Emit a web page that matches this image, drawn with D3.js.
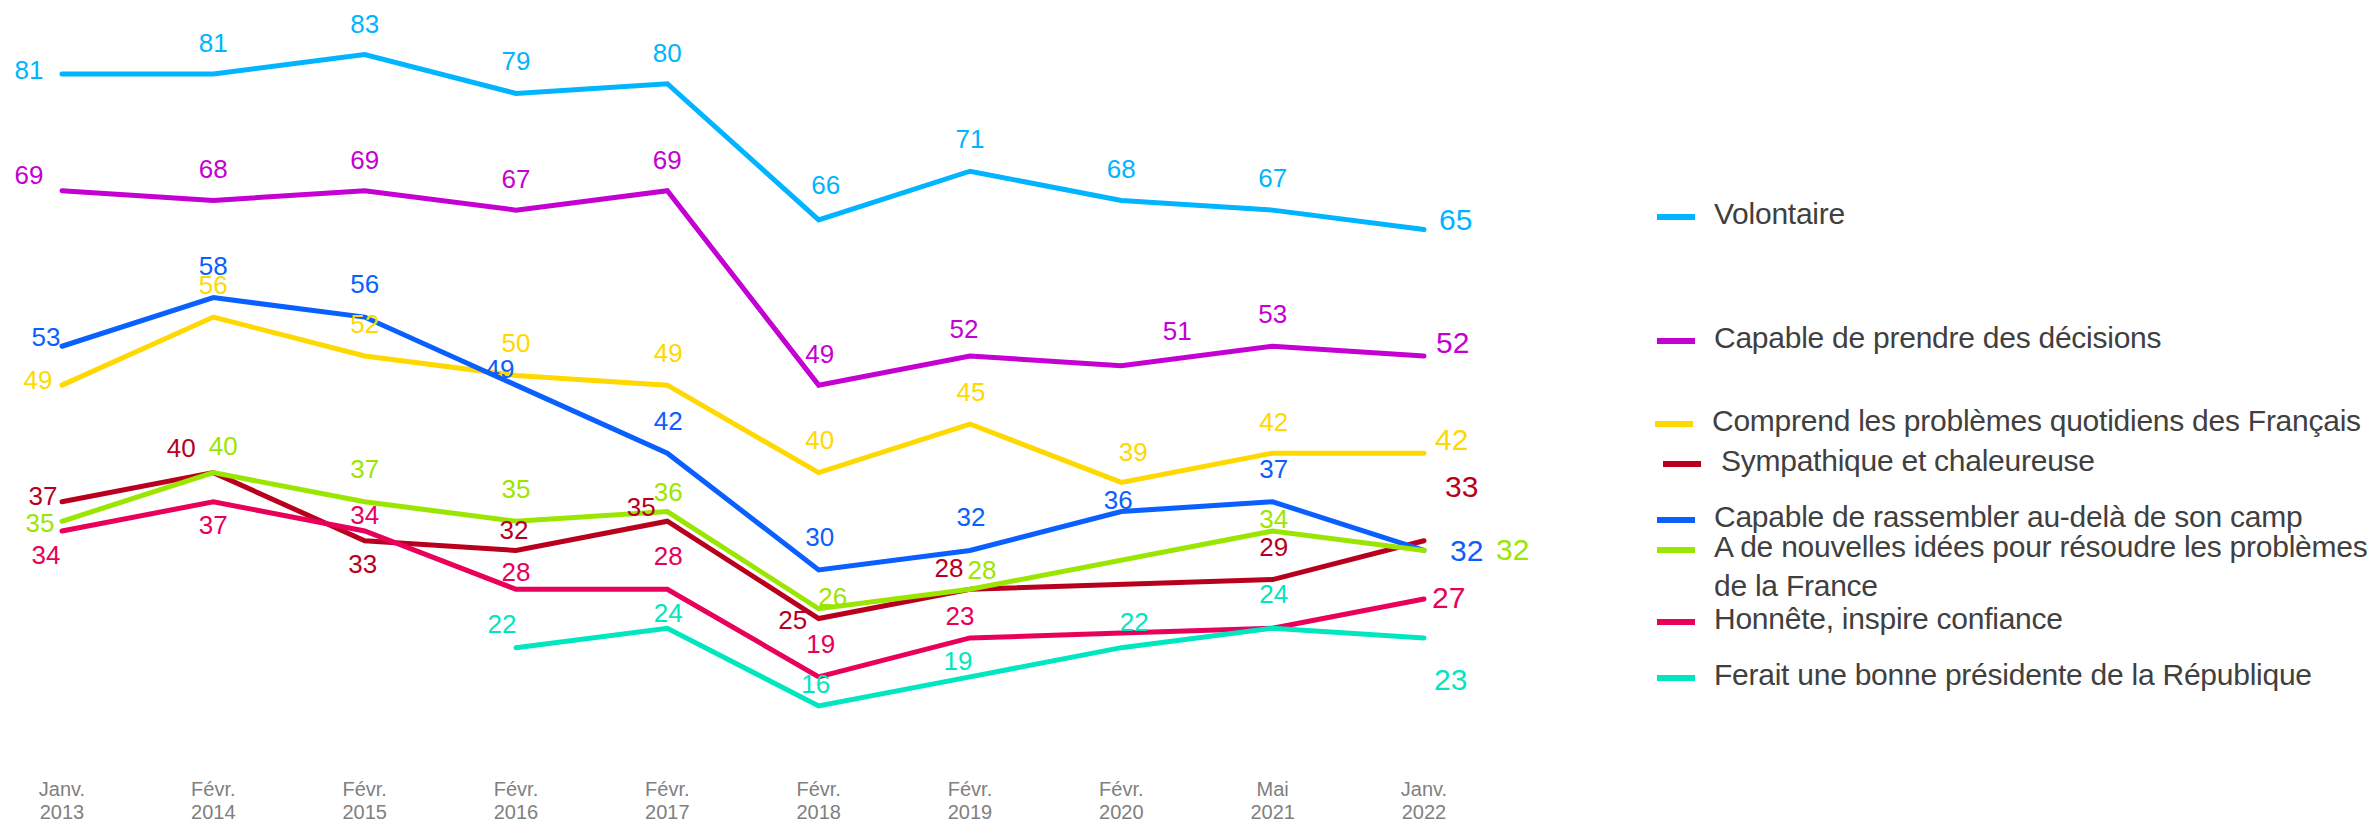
<!DOCTYPE html>
<html>
<head>
<meta charset="utf-8">
<script src="https://cdn.jsdelivr.net/npm/d3@7/dist/d3.min.js"></script>
<style>
    body { margin: 0; background: #fff; }
    svg { display: block; font-family: "Liberation Sans", Arial, sans-serif; }
</style>
</head>
<body>
<script>
// data
var months = ['Janv.', 'Févr.', 'Févr.', 'Févr.', 'Févr.', 'Févr.', 'Févr.', 'Févr.', 'Mai', 'Janv.'];
var years  = ['2013', '2014', '2015', '2016', '2017', '2018', '2019', '2020', '2021', '2022'];

var seriesNames = [
    'Volontaire',
    'Capable de prendre des décisions',
    'Comprend les problèmes quotidiens des Français',
    'Sympathique et chaleureuse',
    'Capable de rassembler au-delà de son camp',
    'A de nouvelles idées pour résoudre les problèmes de la France',
    'Honnête, inspire confiance',
    'Ferait une bonne présidente de la République'
];

var volontaire   = [81, 81, 83, 79, 80, 66, 71, 68, 67, 65];
var decisions    = [69, 68, 69, 67, 69, 49, 52, 51, 53, 52];
var comprend     = [49, 56, 52, 50, 49, 40, 45, 39, 42, 42];
var sympathique  = [37, 40, 33, 32, 35, 25, 28, null, 29, 33];
var rassembler   = [53, 58, 56, 49, 42, 30, 32, 36, 37, 32];
var nouvelles    = [35, 40, 37, 35, 36, 26, 28, null, 34, 32];
var honnete      = [34, 37, 34, 28, 28, 19, 23, 23.5, 24, 27];
var presidente   = [null, null, null, 22, 24, 16, 19, 22, 24, 23];

var seriesValues = [volontaire, decisions, comprend, sympathique, rassembler, nouvelles, honnete, presidente];

// which points carry a value label (honnete has unlabeled points in 2020 / 2021)
var labelShown = [
    [1,1,1,1,1,1,1,1,1,1],
    [1,1,1,1,1,1,1,1,1,1],
    [1,1,1,1,1,1,1,1,1,1],
    [1,1,1,1,1,1,1,0,1,1],
    [1,1,1,1,1,1,1,1,1,1],
    [1,1,1,1,1,1,1,0,1,1],
    [1,1,1,1,1,1,1,0,0,1],
    [0,0,0,1,1,1,1,1,1,1]
];

/**************************************/

var width  = 2379,
    height = 824;

var colors = ['#00b4ff', '#c400d2', '#ffd800', '#b8001e', '#0a60ff', '#9be600', '#e8005a', '#00e6c0'];

// label offsets from the point: [dx, dy] (last one is left-anchored)
var labelOffsets = [
    [[-33,5],[0,-22],[0,-22],[0,-23],[0,-22],[7,-26],[0,-23],[0,-22],[0,-23],[15,0]],
    [[-33,-7],[0,-22],[0,-22],[0,-22],[0,-22],[1,-22],[-6,-18],[56,-26],[0,-23],[12,-3]],
    [[-24,4],[0,-23],[0,-23],[0,-23],[1,-23],[1,-24],[1,-23],[12,-21],[1,-22],[11,-3]],
    [[-19,3],[-32,-16],[-2,32],[-2,-11],[-26,-5],[-26,11],[-21,-12],null,[1,-24],[21,-44]],
    [[-16,0],[0,-23],[0,-24],[-16,-7],[1,-23],[1,-24],[1,-24],[-3,-3],[1,-24],[26,11]],
    [[-22,11],[10,-18],[0,-24],[0,-23],[1,-11],[14,-3],[12,-10],null,[1,-3],[72,10]],
    [[-16,33],[0,32],[0,-7],[0,-8],[1,-24],[2,-24],[-10,-13],null,null,[8,9]],
    [null,null,null,[-14,-15],[1,-6],[-3,-13],[-12,-7],[13,-17],[1,-25],[10,52]]
];

var svg = d3.select('body')
    .append('svg')
    .attr('width', width)
    .attr('height', height);

var x = d3.scalePoint()
    .domain(years)
    .range([62, 1424]);

var y = d3.scaleLinear()
    .domain([16, 81])
    .range([706, 74]);

var series = seriesNames.map(function(name, i) {
    return {
        name: name,
        color: colors[i],
        points: years.map(function(yr, j) {
            return {year: yr, value: seriesValues[i][j], idx: j, show: labelShown[i][j], off: labelOffsets[i][j]};
        }).filter(function(p) { return p.value !== null; })
    };
});

var line = d3.line()
    .x(function(d) { return x(d.year); })
    .y(function(d) { return y(d.value); });

// x axis labels (two lines)
var axis = svg.append('g').attr('class', 'x-axis');
var tick = axis.selectAll('g.tick')
    .data(years)
    .enter().append('g')
    .attr('class', 'tick')
    .attr('transform', function(d) { return 'translate(' + x(d) + ',0)'; });

tick.append('text')
    .attr('y', 796)
    .attr('text-anchor', 'middle')
    .attr('fill', '#808080')
    .style('font-size', '20px')
    .text(function(d, i) { return months[i]; });

tick.append('text')
    .attr('y', 819)
    .attr('text-anchor', 'middle')
    .attr('fill', '#808080')
    .style('font-size', '20px')
    .text(function(d) { return d; });

// lines
svg.append('g').attr('class', 'lines')
    .selectAll('path')
    .data(series)
    .enter().append('path')
    .attr('d', function(d) { return line(d.points); })
    .attr('fill', 'none')
    .attr('stroke', function(d) { return d.color; })
    .attr('stroke-width', 5)
    .attr('stroke-linecap', 'round')
    .attr('stroke-linejoin', 'miter');

// value labels
var labels = svg.append('g').attr('class', 'labels');
series.forEach(function(s) {
    labels.selectAll(null)
        .data(s.points.filter(function(p) { return p.show && p.off; }))
        .enter().append('text')
        .attr('x', function(p) { return x(p.year) + p.off[0]; })
        .attr('y', function(p) { return y(p.value) + p.off[1]; })
        .attr('text-anchor', function(p) { return p.idx === years.length - 1 ? 'start' : 'middle'; })
        .attr('fill', s.color)
        .style('font-size', function(p) { return p.idx === years.length - 1 ? '30px' : '26px'; })
        .text(function(p) { return p.value; });
});

// legend
var legendLineY = [217, 341, 424, 464, 520, 550, 622, 678];
var legendLineX = [1657, 1657, 1655, 1663, 1657, 1657, 1657, 1657];
var legendTextX = [1714, 1714, 1712, 1721, 1714, 1714, 1714, 1714];
var legendLines = [
    ['Volontaire'],
    ['Capable de prendre des décisions'],
    ['Comprend les problèmes quotidiens des Français'],
    ['Sympathique et chaleureuse'],
    ['Capable de rassembler au-delà de son camp'],
    ['A de nouvelles idées pour résoudre les problèmes', 'de la France'],
    ['Honnête, inspire confiance'],
    ['Ferait une bonne présidente de la République']
];

var legend = svg.append('g').attr('class', 'legend')
    .selectAll('g')
    .data(series)
    .enter().append('g');

legend.append('line')
    .attr('x1', function(d, i) { return legendLineX[i]; })
    .attr('x2', function(d, i) { return legendLineX[i] + 38; })
    .attr('y1', function(d, i) { return legendLineY[i]; })
    .attr('y2', function(d, i) { return legendLineY[i]; })
    .attr('stroke', function(d) { return d.color; })
    .attr('stroke-width', 6);

legend.append('text')
    .attr('x', function(d, i) { return legendTextX[i]; })
    .attr('y', function(d, i) { return legendLineY[i] + 7; })
    .attr('fill', '#404040')
    .style('font-size', '30px')
    .style('letter-spacing', '-0.25px')
    .each(function(d, i) {
        var t = d3.select(this);
        legendLines[i].forEach(function(l, k) {
            t.append('tspan')
                .attr('x', legendTextX[i])
                .attr('dy', k === 0 ? 0 : 39)
                .text(l);
        });
    });
</script>
</body>
</html>
